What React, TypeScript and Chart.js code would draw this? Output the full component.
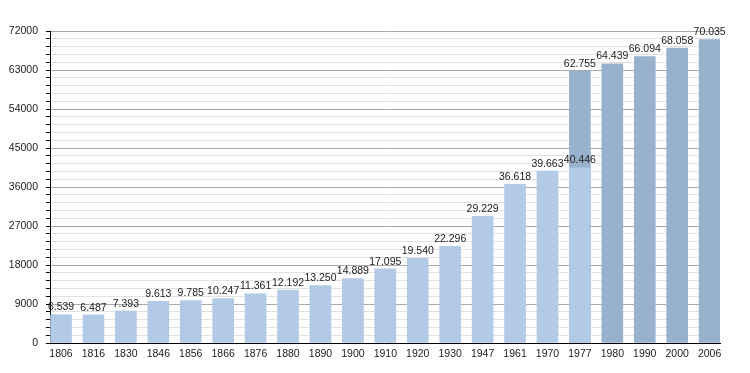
import React, { useEffect, useRef } from "react";
import { Chart, registerables } from "chart.js";

Chart.register(...registerables);

const years = ["1806","1816","1830","1846","1856","1866","1876","1880","1890","1900","1910","1920","1930","1947","1961","1970","1977","1980","1990","2000","2006"];
const lightValues = [6539,6487,7393,9613,9785,10247,11361,12192,13250,14889,17095,19540,22296,29229,36618,39663,40446,null,null,null,null];
const darkValues = [null,null,null,null,null,null,null,null,null,null,null,null,null,null,null,null,62755,64439,66094,68058,70035];
const yMax = 72000;
const yMajorStep = 9000;
const yMinorStep = 1800;

const fmt = (v: number) => {
  const s = String(v);
  return s.length > 3 ? s.slice(0, s.length - 3) + "." + s.slice(s.length - 3) : s;
};

const FONT = "'Liberation Sans', Arial, sans-serif";

const labelPlugin = {
  id: "valueLabels",
  afterDatasetsDraw(chart: any) {
    const ctx = chart.ctx;
    ctx.save();
    ctx.font = "10.5px " + FONT;
    ctx.fillStyle = "#222";
    ctx.textAlign = "center";
    ctx.textBaseline = "bottom";
    chart.data.datasets.forEach((ds: any, di: number) => {
      const meta = chart.getDatasetMeta(di);
      meta.data.forEach((el: any, i: number) => {
        const v = ds.data[i]?.y;
        if (v == null) return;
        ctx.fillText(fmt(v), el.x, el.y - 2);
      });
    });
    ctx.restore();
  },
};

export default function App() {
  const ref = useRef<HTMLCanvasElement>(null);
  useEffect(() => {
    document.body.style.margin = "0";
    const toPts = (arr: (number | null)[]) => arr.map((v, i) => ({ x: i, y: v }));
    const chart = new Chart(ref.current!, {
      type: "bar",
      data: {
        datasets: [
          { data: toPts(lightValues) as any, backgroundColor: "#b2cae6", grouped: false, barThickness: 21 } as any,
          { data: toPts(darkValues) as any, backgroundColor: "#98b1cc", grouped: false, barThickness: 21 } as any,
        ],
      },
      options: {
        responsive: false,
        animation: false,
        layout: { padding: { left: 0, top: 31, right: 30, bottom: 0 } },
        plugins: { legend: { display: false }, tooltip: { enabled: false } },
        scales: {
          x: {
            type: "linear",
            offset: false,
            min: -0.34,
            max: 20.32,
            afterBuildTicks: (scale: any) => {
              scale.ticks = years.map((_, i) => ({ value: i }));
            },
            afterFit: (scale: any) => { scale.height = 30; },
            grid: { display: false, drawTicks: false },
            border: { display: true, color: "#000", width: 1 },
            ticks: {
              autoSkip: false,
              maxRotation: 0,
              padding: 5,
              color: "#222",
              font: { family: FONT, size: 10.5 },
              callback: (v: any) => years[v] ?? "",
            },
          },
          y: {
            min: 0,
            max: yMax,
            afterBuildTicks: (scale: any) => {
              const t = [];
              for (let v = 0; v <= yMax; v += yMinorStep) t.push({ value: v });
              scale.ticks = t;
            },
            afterFit: (scale: any) => { scale.width = 50; },
            grid: {
              color: (c: any) => (c.tick && c.tick.value % yMajorStep === 0 ? "#a8a8a8" : "#e2e2e2"),
              tickColor: "#000",
              tickLength: 4,
            },
            border: { display: true, color: "#000", width: 1 },
            ticks: {
              padding: 8,
              color: "#222",
              font: { family: FONT, size: 10.5 },
              autoSkip: false,
              callback: (v: any) => (v % yMajorStep === 0 ? String(v) : ""),
            },
          },
        },
      },
      plugins: [labelPlugin],
    });
    return () => chart.destroy();
  }, []);
  return <canvas ref={ref} width={750} height={373} />;
}
